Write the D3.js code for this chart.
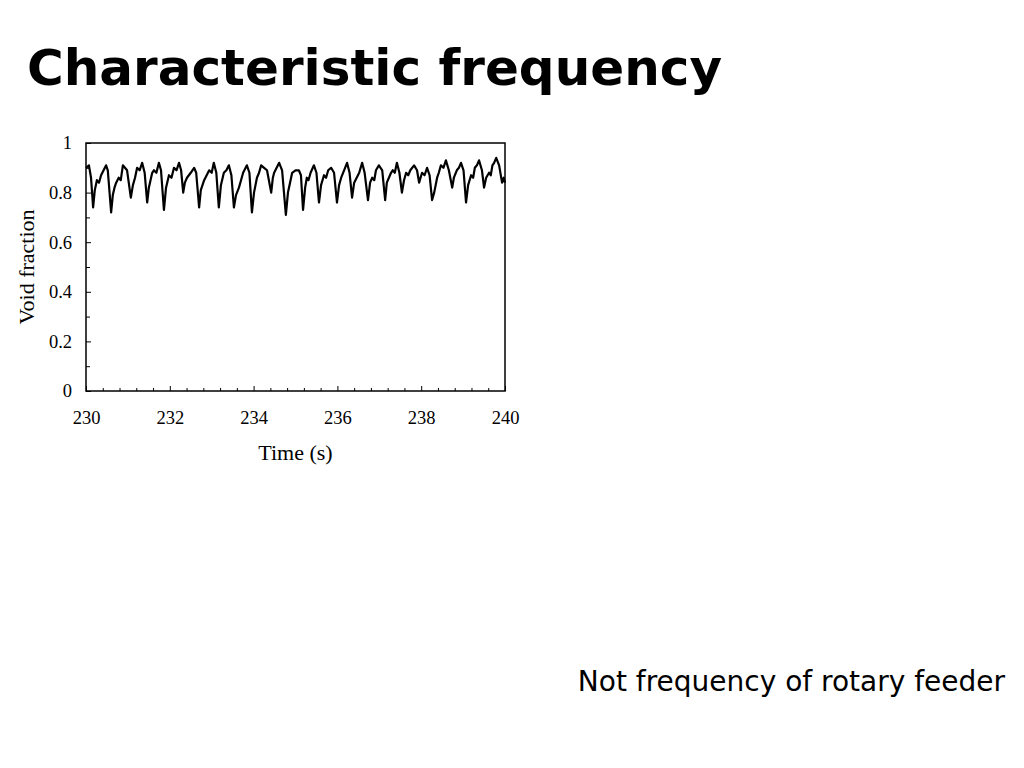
<!DOCTYPE html>
<html>
<head>
<meta charset="utf-8">
<script src="https://cdn.jsdelivr.net/npm/d3@7"></script>
<style>
  body { margin: 0; background: #fff; }
  svg { display: block; }
  .tick text { font-family: "Liberation Serif", "Times New Roman", serif; font-size: 18.5px; fill: #000; }
  .axis-label { font-family: "Liberation Serif", "Times New Roman", serif; font-size: 22px; fill: #000; }
</style>
</head>
<body>
<svg id="slide" width="1024" height="768"></svg>
<script>
// Data: time (s) and void fraction
var times = [
  230.00, 230.07, 230.12, 230.17, 230.21, 230.26, 230.31, 230.36, 230.42, 230.48, 230.52,
  230.60, 230.64, 230.68, 230.72, 230.78, 230.83, 230.88, 230.98,
  231.07, 231.12, 231.17, 231.22, 231.28, 231.34, 231.40,
  231.46, 231.50, 231.54, 231.58, 231.62, 231.68, 231.74, 231.79,
  231.86, 231.91, 231.98, 232.04, 232.10, 232.16, 232.22, 232.27,
  232.32, 232.36, 232.41, 232.50, 232.58, 232.63,
  232.70, 232.74, 232.78, 232.82, 232.88, 232.94, 233.00, 233.05, 233.11,
  233.17, 233.22, 233.29, 233.35, 233.41, 233.47,
  233.53, 233.58, 233.65, 233.70, 233.75, 233.84, 233.90,
  233.96, 234.01, 234.08, 234.13, 234.18, 234.25, 234.32,
  234.42, 234.46, 234.49, 234.55, 234.61, 234.68,
  234.77, 234.82, 234.87, 234.92, 235.00, 235.08, 235.13,
  235.18, 235.23, 235.27, 235.31, 235.36, 235.44, 235.50,
  235.56, 235.61, 235.68, 235.73, 235.78, 235.85, 235.92,
  235.99, 236.04, 236.09, 236.16, 236.23, 236.29,
  236.35, 236.40, 236.46, 236.52, 236.59, 236.65,
  236.73, 236.78, 236.83, 236.88, 236.92, 236.99, 237.07,
  237.14, 237.18, 237.23, 237.28, 237.32, 237.37, 237.42, 237.48,
  237.54, 237.59, 237.64, 237.69, 237.74, 237.83, 237.90,
  237.95, 238.02, 238.08, 238.14, 238.20,
  238.26, 238.31, 238.38, 238.42, 238.47, 238.53, 238.59, 238.66,
  238.74, 238.78, 238.85, 238.90, 238.95, 239.01,
  239.07, 239.12, 239.19, 239.24, 239.28, 239.33, 239.38, 239.45,
  239.50, 239.55, 239.62, 239.66, 239.70, 239.74, 239.79, 239.86,
  239.93, 239.97, 240.00
];
var voidFraction = [
  0.90, 0.91, 0.86, 0.74, 0.81, 0.85, 0.84, 0.87, 0.89, 0.91, 0.89,
  0.72, 0.79, 0.82, 0.84, 0.86, 0.85, 0.91, 0.89,
  0.78, 0.83, 0.86, 0.90, 0.89, 0.92, 0.88,
  0.76, 0.82, 0.85, 0.88, 0.89, 0.88, 0.92, 0.89,
  0.73, 0.82, 0.87, 0.86, 0.90, 0.89, 0.92, 0.89,
  0.80, 0.84, 0.86, 0.88, 0.90, 0.88,
  0.74, 0.81, 0.83, 0.85, 0.87, 0.89, 0.88, 0.92, 0.88,
  0.74, 0.83, 0.88, 0.89, 0.91, 0.87,
  0.74, 0.79, 0.82, 0.85, 0.88, 0.91, 0.88,
  0.72, 0.80, 0.86, 0.88, 0.91, 0.90, 0.89,
  0.80, 0.86, 0.88, 0.90, 0.92, 0.89,
  0.71, 0.80, 0.84, 0.88, 0.89, 0.89, 0.87,
  0.73, 0.82, 0.86, 0.85, 0.88, 0.91, 0.88,
  0.76, 0.83, 0.87, 0.86, 0.89, 0.90, 0.88,
  0.76, 0.83, 0.86, 0.89, 0.92, 0.88,
  0.78, 0.84, 0.86, 0.88, 0.92, 0.88,
  0.77, 0.84, 0.86, 0.85, 0.89, 0.91, 0.89,
  0.77, 0.84, 0.86, 0.88, 0.89, 0.88, 0.92, 0.88,
  0.80, 0.85, 0.88, 0.87, 0.89, 0.91, 0.89,
  0.84, 0.88, 0.87, 0.90, 0.87,
  0.77, 0.80, 0.86, 0.88, 0.91, 0.90, 0.93, 0.89,
  0.82, 0.86, 0.89, 0.90, 0.92, 0.89,
  0.76, 0.83, 0.87, 0.86, 0.90, 0.91, 0.93, 0.89,
  0.82, 0.86, 0.88, 0.87, 0.91, 0.92, 0.94, 0.91,
  0.84, 0.86, 0.84
];

// Axis ticks
var xTicks = [230, 232, 234, 236, 238, 240];
var xMinorTicks = [230.4, 230.8, 231.2, 231.6, 232.4, 232.8, 233.2, 233.6, 234.4, 234.8, 235.2, 235.6,
                   236.4, 236.8, 237.2, 237.6, 238.4, 238.8, 239.2, 239.6];
var yTicks = [0, 0.2, 0.4, 0.6, 0.8, 1];
var yMinorTicks = [0.1, 0.3, 0.5, 0.7, 0.9];

var titleText = "Characteristic frequency";
var noteText = "Not frequency of rotary feeder";

document.addEventListener("DOMContentLoaded", function() {
    const svg = d3.select("#slide");

    // Slide title and note
    svg.append("text")
        .attr("x", 27)
        .attr("y", 85)
        .style("font-family", "'DejaVu Sans', Verdana, sans-serif")
        .style("font-weight", "bold")
        .style("font-size", "50px")
        .text(titleText);

    svg.append("text")
        .attr("x", 1005)
        .attr("y", 691)
        .attr("text-anchor", "end")
        .style("font-family", "'DejaVu Sans', Verdana, sans-serif")
        .style("font-size", "28px")
        .text(noteText);

    // Chart area
    const margin = { top: 143, left: 86 };
    const innerWidth = 419;
    const innerHeight = 248;

    const g = svg.append("g")
        .attr("transform", `translate(${margin.left}, ${margin.top})`);

    const xScale = d3.scaleLinear().domain([230, 240]).range([0, innerWidth]);
    const yScale = d3.scaleLinear().domain([0, 1]).range([innerHeight, 0]);

    // minor ticks (inside)
    g.append("g")
        .attr("transform", `translate(0, ${innerHeight})`)
        .call(d3.axisBottom(xScale).tickValues(xMinorTicks).tickFormat("").tickSize(-3))
        .call(a => a.select(".domain").remove());
    g.append("g")
        .call(d3.axisLeft(yScale).tickValues(yMinorTicks).tickFormat("").tickSize(-4))
        .call(a => a.select(".domain").remove());

    // major ticks
    const gx = g.append("g")
        .attr("transform", `translate(0, ${innerHeight})`)
        .call(d3.axisBottom(xScale).tickValues(xTicks).tickFormat(d3.format("d"))
              .tickSizeInner(-5).tickSizeOuter(0).tickPadding(20));
    gx.select(".domain").remove();

    const gy = g.append("g")
        .call(d3.axisLeft(yScale).tickValues(yTicks).tickFormat(d => d)
              .tickSizeInner(-5).tickSizeOuter(0).tickPadding(14));
    gy.select(".domain").remove();

    g.selectAll(".tick line").attr("stroke", "#000");

    // data line
    const data = times.map((t, i) => ({ t: t, v: voidFraction[i] }));
    g.append("path")
        .datum(data)
        .attr("fill", "none")
        .attr("stroke", "#000")
        .attr("stroke-width", 2.2)
        .attr("stroke-linejoin", "round")
        .attr("d", d3.line()
            .x(d => xScale(d.t))
            .y(d => yScale(d.v)));

    // frame
    g.append("rect")
        .attr("width", innerWidth)
        .attr("height", innerHeight)
        .attr("fill", "none")
        .attr("stroke", "#000")
        .attr("stroke-width", 1.5);

    // axis labels
    g.append("text")
        .attr("class", "axis-label")
        .attr("text-anchor", "middle")
        .attr("x", innerWidth / 2)
        .attr("y", innerHeight + 69)
        .text("Time (s)");

    g.append("text")
        .attr("class", "axis-label")
        .attr("text-anchor", "middle")
        .attr("transform", `translate(${-52}, ${innerHeight / 2}) rotate(-90)`)
        .text("Void fraction");
});
</script>
</body>
</html>
